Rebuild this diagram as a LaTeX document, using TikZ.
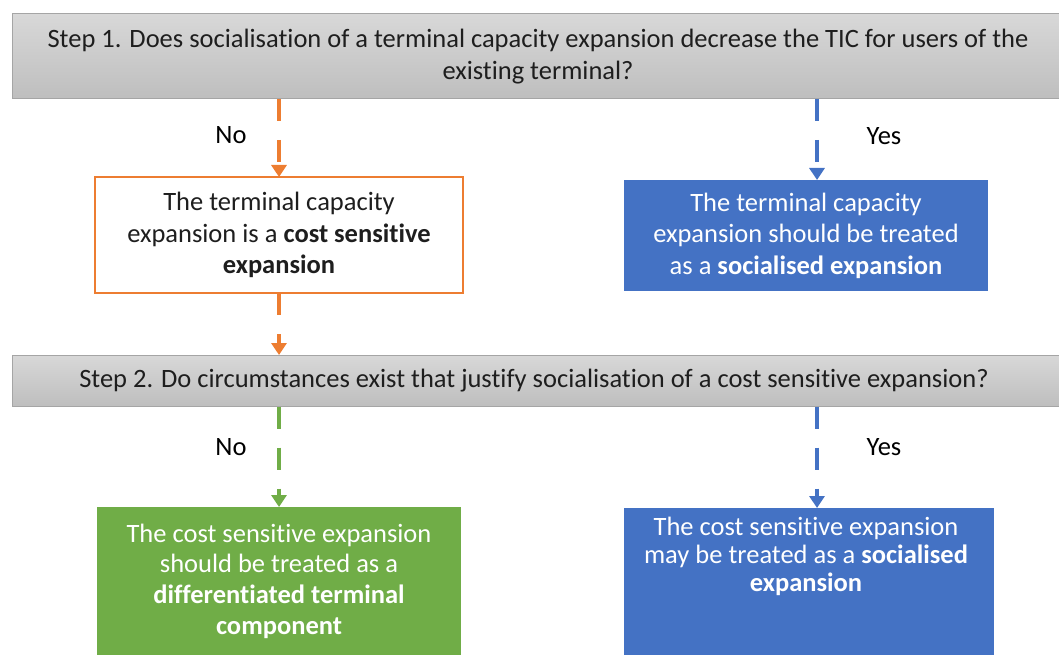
\documentclass[tikz,border=0pt]{standalone}
\usepackage{fontspec}
\setmainfont{Carlito}[Ligatures={NoCommon, NoRare, NoContextual, NoHistoric}]
\usepackage{tikz}
\usetikzlibrary{arrows.meta, calc}
\definecolor{flowOrange}{RGB}{237, 125, 49}
\definecolor{flowBlue}{RGB}{68, 114, 196}
\definecolor{flowGreen}{RGB}{112, 173, 71}
\definecolor{barTop}{RGB}{216, 216, 216}
\definecolor{barBottom}{RGB}{190, 190, 190}
\definecolor{barEdge}{RGB}{165, 165, 165}
\definecolor{textDark}{RGB}{30, 30, 30}

\begin{document}
\begin{tikzpicture} [
        x=1pt, y=-1pt,
        every node/.style={font=\fontsize{26.5}{31.5}\selectfont, inner sep=0pt, outer sep=0pt},
        stepbar/.style={draw=barEdge, line width=1pt, top color=barTop, bottom color=barBottom, anchor=north west, minimum width=1052pt, align=center, text=textDark},
        outcome/.style={anchor=north west, align=center, minimum width=364pt},
        flow/.style={line width=4.5pt, dash pattern=on 22pt off 19pt, -{Triangle[length=12pt, width=15pt]}},
        answer/.style={text=black}
    ]
        \useasboundingbox (0,0) rectangle (1059,655);
        \coordinate (yescol) at (817,0);

        \node[stepbar, minimum height=85pt] (step1) at (12,14) {
                Step 1. Does socialisation of a terminal capacity expansion decrease the TIC for users of the\\
                existing terminal?
            };
        \node[outcome, draw=flowOrange, line width=2pt, fill=white, minimum width=368pt, minimum height=116pt, text=textDark] (costsens) at (95,177) {
                The terminal capacity\\
                expansion is a \textbf{cost sensitive}\\
                \textbf{expansion}
            };
        \node[outcome, fill=flowBlue, minimum height=111pt, text=white] (socialised) at (624,180) {
                The terminal capacity\\
                expansion should be treated\\
                as a \textbf{socialised expansion}
            };

        \node[stepbar, minimum height=51.5pt] (step2) at (12,355) {
                Step 2. Do circumstances exist that justify socialisation of a cost sensitive expansion?
            };
        \node[outcome, fill=flowGreen, minimum height=148pt, text=white, font=\fontsize{26.5}{30.7}\selectfont] (differentiated) at (97,507) {
                The cost sensitive expansion\\
                should be treated as a\\
                \textbf{differentiated terminal}\\
                \textbf{component}
            };
        \node[outcome, fill=flowBlue, text=white, inner ysep=9pt] (maysocial) at (624,508) {
                \parbox[c][129pt][t]{364pt}{\centering\fontsize{26.5}{28}\selectfont
                The cost sensitive expansion\\
                may be treated as a \textbf{socialised}\\
                \textbf{expansion}}
            };

        \draw[flow, flowOrange] (step1.south -| costsens.north) -- (costsens.north)
            node[answer, pos=0.46, xshift=-48pt] (no1) {No};
        \draw[flow, flowBlue] (step1.south -| yescol) -- (socialised.north -| yescol)
            node[answer, pos=0.46, xshift=67pt] (yes1) {Yes};
        \draw[flow, flowOrange] (costsens.south) -- (step2.north -| costsens.south);
        \draw[flow, flowGreen] (step2.south -| differentiated.north) -- (differentiated.north)
            node[answer, pos=0.4, xshift=-48pt] (no2) {No};
        \draw[flow, flowBlue] (step2.south -| yescol) -- (maysocial.north -| yescol)
            node[answer, pos=0.4, xshift=67pt] (yes2) {Yes};
    \end{tikzpicture}
\end{document}
